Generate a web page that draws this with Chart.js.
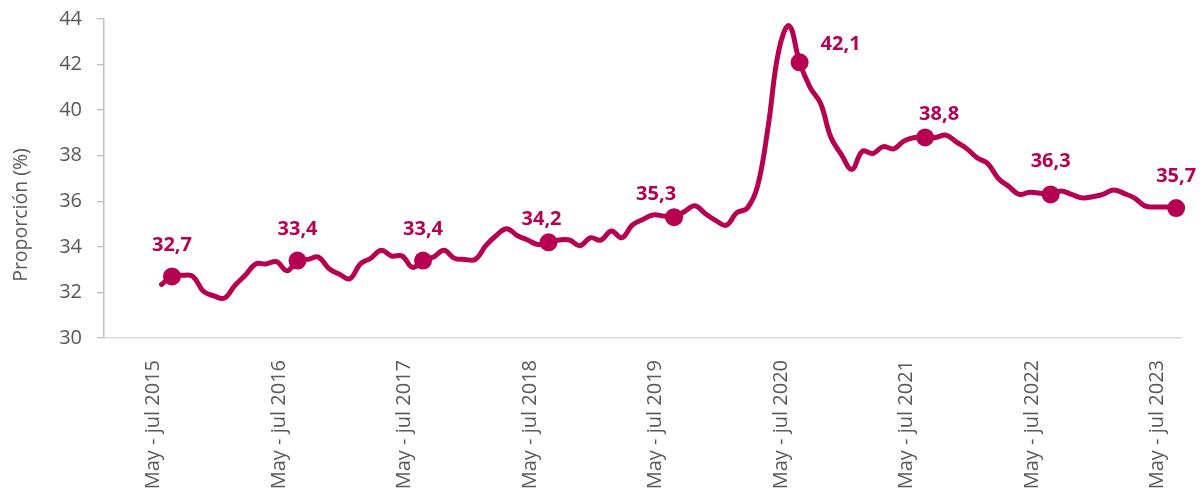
<!DOCTYPE html>
<html>
<head>
<meta charset="utf-8">
<script src="https://cdn.jsdelivr.net/npm/chart.js@4/dist/chart.umd.min.js"></script>
<style>
  html, body { margin: 0; padding: 0; background: #ffffff; overflow: hidden; }
  #wrap { position: relative; width: 1204px; height: 488px; }
</style>
</head>
<body>
<div id="wrap"><canvas id="c" width="1204" height="488"></canvas></div>
<script>
// ---- Data ----
const monthNames = ['ene','feb','mar','abr','may','jun','jul','ago','sep','oct','nov','dic'];
const startMonth = 4;   // May
const startYear = 2015;

// Rolling 3-month periods, May - jul 2015 ... Jun - ago 2023
const values = [
  32.35, 32.7, 32.75, 32.7, 32.05, 31.85, 31.75, 32.3, 32.75, 33.25, 33.25, 33.35,
  32.95, 33.4, 33.45, 33.55, 33.05, 32.8, 32.6, 33.25, 33.5, 33.85, 33.6, 33.6,
  33.1, 33.4, 33.55, 33.85, 33.5, 33.45, 33.45, 34.05, 34.5, 34.8, 34.5, 34.3,
  34.1, 34.2, 34.3, 34.3, 34.05, 34.4, 34.3, 34.7, 34.4, 34.95, 35.2, 35.4,
  35.35, 35.3, 35.55, 35.8, 35.45, 35.15, 34.95, 35.5, 35.7, 36.7, 39.3, 42.6,
  43.7, 42.1, 41.0, 40.3, 38.8, 38.05, 37.4, 38.2, 38.1, 38.4, 38.3, 38.65,
  38.8, 38.8, 38.8, 38.9, 38.6, 38.3, 37.9, 37.65, 37.0, 36.65, 36.3, 36.4,
  36.35, 36.3, 36.45, 36.3, 36.15, 36.2, 36.3, 36.5, 36.35, 36.15, 35.8, 35.75,
  35.75, 35.7
];

const periods = values.map((v, i) => {
  const m0 = (startMonth + i) % 12;
  const m2 = (startMonth + i + 2) % 12;
  const y2 = startYear + Math.floor((startMonth + i + 2) / 12);
  const first = monthNames[m0];
  return first.charAt(0).toUpperCase() + first.slice(1) + ' - ' + monthNames[m2] + ' ' + y2;
});

const tickPositions = [0, 12, 24, 36, 48, 60, 72, 84, 96];
const tickLabels = tickPositions.map(p => periods[p]);
const markerIdx = [1, 13, 25, 37, 49, 61, 73, 85, 97];
const yTicks = [30, 32, 34, 36, 38, 40, 42, 44];

// ---- Styling ----
const LINE = '#B60051';
const GREY = '#595959';
const FONT = "'Open Sans', 'Noto Sans', sans-serif";
const labelOffsets = [[0,-31],[0,-31],[0,-31],[-7,-23],[-18,-23],[41,-18],[14,-23],[0,-33],[0,-32]];

const points = values.map((v, i) => ({ x: i, y: v }));

const dataLabels = {
  id: 'dataLabels',
  afterDatasetsDraw(chart) {
    const meta = chart.getDatasetMeta(0);
    const ctx = chart.ctx;
    ctx.save();
    ctx.fillStyle = LINE;
    ctx.font = "bold 20px " + FONT;
    ctx.textAlign = 'center';
    ctx.textBaseline = 'middle';
    markerIdx.forEach((idx, k) => {
      const el = meta.data[idx];
      const txt = values[idx].toFixed(1).replace('.', ',');
      ctx.fillText(txt, el.x + labelOffsets[k][0], el.y + labelOffsets[k][1]);
    });
    ctx.restore();
  }
};

const yTitle = {
  id: 'yTitle',
  afterDraw(chart) {
    const ctx = chart.ctx;
    ctx.save();
    ctx.translate(21, 215);
    ctx.rotate(-Math.PI / 2);
    ctx.fillStyle = GREY;
    ctx.font = "19.5px " + FONT;
    ctx.textAlign = 'center';
    ctx.textBaseline = 'middle';
    ctx.fillText('Proporción (%)', 0, 0);
    ctx.restore();
  }
};

new Chart(document.getElementById('c'), {
  type: 'line',
  data: {
    datasets: [{
      label: 'Proporción (%)',
      data: points,
      borderColor: LINE,
      backgroundColor: LINE,
      borderWidth: 5,
      borderCapStyle: 'round',
      borderJoinStyle: 'round',
      tension: 0.4,
      clip: false,
      pointRadius: ctx => markerIdx.includes(ctx.dataIndex) ? 9 : 0,
      pointHoverRadius: ctx => markerIdx.includes(ctx.dataIndex) ? 9 : 0,
      pointBackgroundColor: LINE,
      pointBorderColor: LINE,
      pointBorderWidth: 0
    }]
  },
  options: {
    responsive: false,
    animation: false,
    events: [],
    layout: { padding: { top: 19, right: 21, bottom: 0, left: 0 } },
    plugins: { legend: { display: false }, tooltip: { enabled: false } },
    scales: {
      x: {
        type: 'linear',
        min: -5.5,
        max: 97.5,
        afterFit(scale) { scale.height = 150; },
        afterBuildTicks(scale) { scale.ticks = tickPositions.map(v => ({ value: v })); },
        grid: { display: false },
        border: { display: true, color: '#d9d9d9', width: 1.5 },
        ticks: {
          autoSkip: false,
          minRotation: 90,
          maxRotation: 90,
          padding: 14,
          labelOffset: -8,
          color: GREY,
          font: { family: FONT, size: 20 },
          callback: (value) => {
            const k = tickPositions.indexOf(value);
            return k >= 0 ? tickLabels[k] : '';
          }
        }
      },
      y: {
        min: 30,
        max: 44,
        afterFit(scale) { scale.width = 104; scale.paddingTop = 0; scale.paddingBottom = 0; },
        afterBuildTicks(scale) { scale.ticks = yTicks.map(v => ({ value: v })); },
        grid: { drawOnChartArea: false, drawTicks: true, tickLength: 7, color: '#bfbfbf', lineWidth: 1.3 },
        border: { display: true, color: '#bfbfbf', width: 1.5 },
        ticks: {
          padding: 15,
          color: GREY,
          font: { family: FONT, size: 20 }
        }
      }
    }
  },
  plugins: [dataLabels, yTitle]
});
</script>
</body>
</html>
